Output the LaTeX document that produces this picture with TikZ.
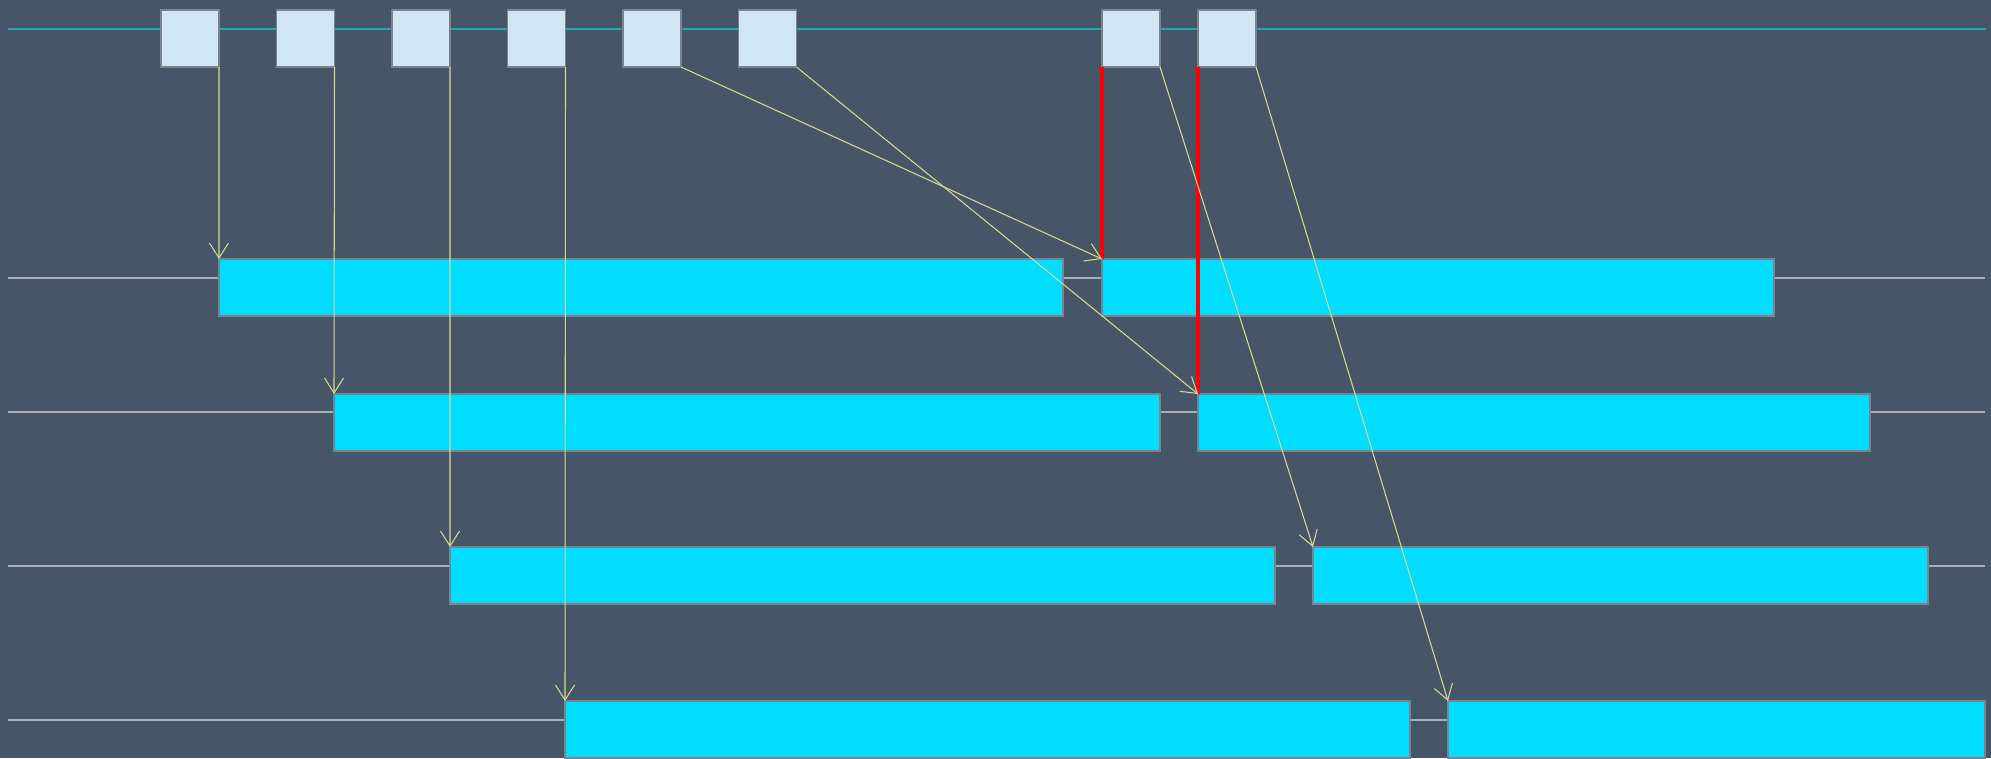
\documentclass[tikz,border=0pt]{standalone}
\usepackage{tikz}
\usetikzlibrary{arrows.meta}

\definecolor{slatebg}{RGB}{71,85,105}
\definecolor{slotfill}{RGB}{209,230,244}
\definecolor{edgegray}{RGB}{122,132,142}
\definecolor{barcyan}{RGB}{0,221,255}
\definecolor{tealline}{RGB}{34,170,178}
\definecolor{laneline}{RGB}{172,174,178}
\definecolor{linkyellow}{RGB}{214,218,142}

\begin{document}
\begin{tikzpicture}[
      slot/.style={draw=edgegray, fill=slotfill, line width=0.3pt, anchor=north west,
                   inner sep=0pt, outer sep=0pt, minimum width=0.58cm, minimum height=0.57cm},
      bar/.style={draw=edgegray, fill=barcyan, line width=0.3pt, anchor=north west,
                  inner sep=0pt, outer sep=0pt, minimum height=0.57cm},
      lane/.style={draw=laneline, line width=0.3pt},
      link/.style={draw=linkyellow, line width=0.3pt,
                   -{Straight Barb[length=1.5mm, width=1.9mm]}},
      cut/.style={draw=red, line width=1.15pt}
    ]
    % --- canvas -------------------------------------------------------------
    \useasboundingbox (0,0) rectangle (19.91,-7.58);
    \fill[slatebg] (0,0) rectangle (19.91,-7.58);

    % --- lanes ----------------------------------------------------------------
    \draw[draw=tealline, line width=0.57pt] (0.08,-0.29) -- (19.86,-0.29);
    \draw[lane] (0.08,-2.78) -- (19.85,-2.78);
    \draw[lane] (0.08,-4.12) -- (19.85,-4.12);
    \draw[lane] (0.08,-5.66) -- (19.85,-5.66);
    \draw[lane] (0.08,-7.20) -- (19.85,-7.20);

    % --- bars on each lane ----------------------------------------------------
    \node[bar, minimum width=8.44cm] (a1) at (2.19,-2.59) {};
    \node[bar, minimum width=6.72cm] (a2) at (11.02,-2.59) {};
    \node[bar, minimum width=8.26cm] (b1) at (3.34,-3.94) {};
    \node[bar, minimum width=6.72cm] (b2) at (11.98,-3.94) {};
    \node[bar, minimum width=8.25cm] (c1) at (4.50,-5.47) {};
    \node[bar, minimum width=6.15cm] (c2) at (13.13,-5.47) {};
    \node[bar, minimum width=8.45cm] (d1) at (5.65,-7.01) {};
    \node[bar, minimum width=5.37cm] (d2) at (14.48,-7.01) {};

    % --- slots on the top line ------------------------------------------------
    \node[slot] (s1) at (1.61,-0.10) {};
    \node[slot] (s2) at (2.765,-0.10) {};
    \node[slot] (s3) at (3.92,-0.10) {};
    \node[slot] (s4) at (5.075,-0.10) {};
    \node[slot] (s5) at (6.23,-0.10) {};
    \node[slot] (s6) at (7.385,-0.10) {};
    \node[slot] (s7) at (11.02,-0.10) {};
    \node[slot] (s8) at (11.98,-0.10) {};

    % Red markers down to the second bars.
    \draw[cut] (s7.south west) -- (a2.north west);
    \draw[cut] (s8.south west) -- (b2.north west);

    % --- links from slots to bars ---------------------------------------------
    \draw[link] (s1.south east) -- (a1.north west);
    \draw[link] (s2.south east) -- (b1.north west);
    \draw[link] (s3.south east) -- (c1.north west);
    \draw[link] (s4.south east) -- (d1.north west);
    \draw[link] (s5.south east) -- (a2.north west);
    \draw[link] (s6.south east) -- (b2.north west);
    \draw[link] (s7.south east) -- (c2.north west);
    \draw[link] (s8.south east) -- (d2.north west);
  \end{tikzpicture}
\end{document}
